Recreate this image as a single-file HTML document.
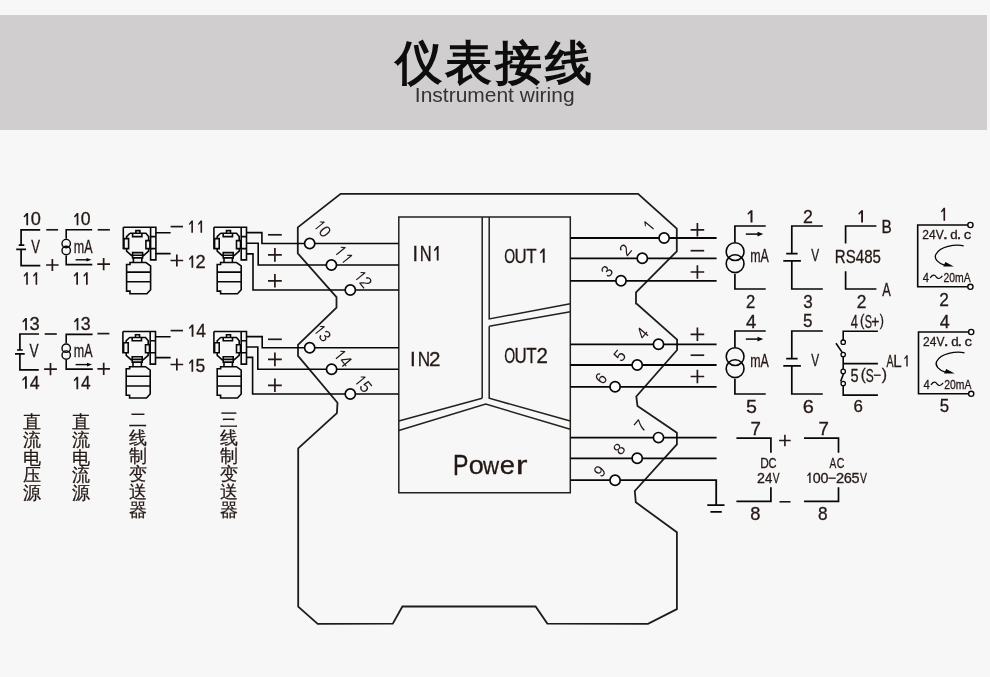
<!DOCTYPE html>
<html><head><meta charset="utf-8"><style>
html,body{margin:0;padding:0;background:#f7f7f7;}
body{width:990px;height:677px;overflow:hidden;position:relative;font-family:"Liberation Sans",sans-serif;}
.band{position:absolute;left:0;top:15px;width:987px;height:115px;background:#d0cecf;}
svg{position:absolute;left:0;top:0;will-change:transform;}
svg text{font-family:"Liberation Sans",sans-serif;}
.b text{stroke:#231815;stroke-width:0.3px;}
.b path{stroke:none;}
</style></head><body>
<div class="band"></div>
<svg width="990" height="677" viewBox="0 0 990 677">
<text x="395" y="79.3" font-size="47" letter-spacing="3" font-weight="bold" fill="#0d0d0d">仪表接线</text>
<g class="lt" fill="#333333" transform="translate(414.86 101.85) scale(1.0236 1)"><text x="0.00" y="0" font-size="20.49">I</text><text x="5.69" y="0" font-size="20.49">n</text><text x="17.09" y="0" font-size="20.49">s</text><text x="27.33" y="0" font-size="20.49">t</text><text x="33.03" y="0" font-size="20.49">r</text><text x="39.85" y="0" font-size="20.49">u</text><text x="51.25" y="0" font-size="20.49">m</text><text x="68.32" y="0" font-size="20.49">e</text><text x="79.71" y="0" font-size="20.49">n</text><text x="91.11" y="0" font-size="20.49">t</text><text x="102.49" y="0" font-size="20.49">w</text><text x="117.29" y="0" font-size="20.49">i</text><text x="121.84" y="0" font-size="20.49">r</text><text x="128.67" y="0" font-size="20.49">i</text><text x="133.22" y="0" font-size="20.49">n</text><text x="144.62" y="0" font-size="20.49">g</text></g>
<path d="M340.6 193.9 L638.1 193.9 L676.8 228.6 L676.8 251.3 L636.0 292.3 L636.0 303.6 L637.0 304.0 L677.1 339.6 L677.1 350.0 L636.3 396.5 L637.5 406.0 L676.9 432.7 L676.9 444.4 L634.8 491.0 L635.8 502.3 L676.9 532.3 L676.9 609.1 L648.0 623.9 L547.3 623.6 L535.6 606.5 L402.4 606.5 L392.8 623.6 L317.7 623.9 L298.2 606.7 L298.2 448.3 L336.9 413.1 L337.5 402.7 L298.0 355.8 L298.0 344.8 L336.5 307.6 L336.5 297.2 L297.8 253.4 L297.8 227.4 Z" stroke="#1d1c17" stroke-width="1.8" fill="none" stroke-linejoin="miter"/>
<path d="M398.8 217H570.3V492.8H398.8Z" stroke="#22211e" stroke-width="1.5" fill="none"/>
<path d="M482.2 217V398.3M489.2 217V318.9L570.3 303.8M489.2 326.2L570.3 311.7M489.2 326.2V398.3L570.3 421" stroke="#22211e" stroke-width="1.5" fill="none"/>
<path d="M398.8 421L482.2 398.3M398.8 430.5L485.7 404.1L570.3 429.2" stroke="#22211e" stroke-width="1.5" fill="none"/>
<g class="b" fill="#231815" transform="translate(0 260.50)"><text transform="translate(412.47 0) scale(0.9321 1)" font-size="21.22">I</text><text transform="translate(419.75 0) scale(0.7799 1)" font-size="21.22">N</text><path transform="translate(429.81 0) scale(0.00966 0.01036)" d="M910 -1409V0H720V-1114L506 -896L420 -1010L740 -1409Z"/></g>
<g class="b" fill="#231815" transform="translate(0 262.70)"><text transform="translate(504.14 0) scale(0.6848 1)" font-size="20.49">O</text><text transform="translate(514.38 0) scale(0.8231 1)" font-size="20.49">U</text><text transform="translate(526.19 0) scale(0.8267 1)" font-size="20.49">T</text><path transform="translate(535.59 0) scale(0.01001 0.01001)" d="M910 -1409V0H720V-1114L506 -896L420 -1010L740 -1409Z"/></g>
<g class="b" fill="#231815" transform="translate(0 365.70)"><text transform="translate(410.10 0) scale(0.9900 1)" font-size="20.79">I</text><text transform="translate(417.67 0) scale(0.8282 1)" font-size="20.79">N</text><text transform="translate(429.09 0) scale(0.9900 1)" font-size="20.79">2</text></g>
<g class="b" fill="#231815" transform="translate(0 362.70)"><text transform="translate(504.13 0) scale(0.6626 1)" font-size="21.22">O</text><text transform="translate(514.40 0) scale(0.7965 1)" font-size="21.22">U</text><text transform="translate(526.23 0) scale(0.7999 1)" font-size="21.22">T</text><text transform="translate(536.61 0) scale(0.9678 1)" font-size="21.22">2</text></g>
<g class="b" fill="#231815" transform="translate(453.10 474.50) scale(0.7608 1)"><text x="0.00" y="0" font-size="30.38">P</text></g>
<g class="b" fill="#231815" transform="translate(468.76 474.35) scale(1.0533 1)"><text x="0.00" y="0" font-size="25.74">o</text></g>
<g class="b" fill="#231815" transform="translate(482.93 474.30) scale(0.8998 1)"><text x="0.00" y="0" font-size="24.80">w</text></g>
<g class="b" fill="#231815" transform="translate(499.64 474.35) scale(1.0599 1)"><text x="0.00" y="0" font-size="25.74">e</text></g>
<g class="b" fill="#231815" transform="translate(515.86 474.30) scale(1.3725 1)"><text x="0.00" y="0" font-size="25.65">r</text></g>
<path d="M246.5 232.6H261.9V243.5H398.8" stroke="#080707" stroke-width="1.6" fill="none"/>
<path d="M246.5 243.2H258.2V265.0H398.8" stroke="#080707" stroke-width="1.6" fill="none"/>
<path d="M246.5 253.9H253.0V290.0H398.8" stroke="#080707" stroke-width="1.6" fill="none"/>
<path d="M246.5 336.6H262.2V347.7H398.8" stroke="#080707" stroke-width="1.6" fill="none"/>
<path d="M246.5 347.0H257.8V369.3H398.8" stroke="#080707" stroke-width="1.6" fill="none"/>
<path d="M246.5 357.4H252.6V394.0H398.8" stroke="#080707" stroke-width="1.6" fill="none"/>
<circle cx="309.7" cy="243.5" r="5.1" fill="#fff" stroke="#080707" stroke-width="1.7"/>
<circle cx="331.4" cy="265.0" r="5.1" fill="#fff" stroke="#080707" stroke-width="1.7"/>
<circle cx="350.3" cy="290.0" r="5.1" fill="#fff" stroke="#080707" stroke-width="1.7"/>
<circle cx="309.7" cy="347.7" r="5.1" fill="#fff" stroke="#080707" stroke-width="1.7"/>
<circle cx="331.6" cy="369.3" r="5.1" fill="#fff" stroke="#080707" stroke-width="1.7"/>
<circle cx="350.3" cy="394.0" r="5.1" fill="#fff" stroke="#080707" stroke-width="1.7"/>
<g class="thin" fill="#231815" transform="translate(322.70 228.80) rotate(51) scale(0.950 1) translate(-11.25 5.74)"><path transform="translate(0.00 0) scale(0.00814 0.00814)" d="M910 -1409V0H760V-1176L488 -920L420 -1010L780 -1409Z"/><text x="10.47" y="0" font-size="16.67">0</text></g>
<g class="thin" fill="#231815" transform="translate(343.30 253.90) rotate(51) scale(0.950 1) translate(-10.94 5.90)"><path transform="translate(0.00 0) scale(0.00837 0.00837)" d="M910 -1409V0H760V-1176L488 -920L420 -1010L780 -1409Z"/><path transform="translate(10.74 0) scale(0.00837 0.00837)" d="M910 -1409V0H760V-1176L488 -920L420 -1010L780 -1409Z"/></g>
<g class="thin" fill="#231815" transform="translate(363.50 279.40) rotate(51) scale(0.950 1) translate(-11.31 5.90)"><path transform="translate(0.00 0) scale(0.00825 0.00825)" d="M910 -1409V0H760V-1176L488 -920L420 -1010L780 -1409Z"/><text x="10.60" y="0" font-size="16.90">2</text></g>
<g class="thin" fill="#231815" transform="translate(322.70 333.30) rotate(51) scale(0.950 1) translate(-11.21 5.74)"><path transform="translate(0.00 0) scale(0.00814 0.00814)" d="M910 -1409V0H760V-1176L488 -920L420 -1010L780 -1409Z"/><text x="10.47" y="0" font-size="16.67">3</text></g>
<g class="thin" fill="#231815" transform="translate(343.30 358.40) rotate(51) scale(0.950 1) translate(-11.65 5.90)"><path transform="translate(0.00 0) scale(0.00837 0.00837)" d="M910 -1409V0H760V-1176L488 -920L420 -1010L780 -1409Z"/><text x="10.74" y="0" font-size="17.15">4</text></g>
<g class="thin" fill="#231815" transform="translate(363.50 383.90) rotate(51) scale(0.950 1) translate(-11.38 5.73)"><path transform="translate(0.00 0) scale(0.00826 0.00826)" d="M910 -1409V0H760V-1176L488 -920L420 -1010L780 -1409Z"/><text x="10.61" y="0" font-size="16.91">5</text></g>
<path d="M570.3 238.0H716.6M570.3 258.3H716.6M570.3 280.8H716.6" stroke="#080707" stroke-width="1.8" fill="none"/>
<path d="M570.3 344.3H716.6M570.3 365.0H716.6M570.3 386.8H716.6" stroke="#080707" stroke-width="1.8" fill="none"/>
<path d="M570.3 437.6H716.6M570.3 458.3H716.6M570.3 480.2H716.2V505.0" stroke="#080707" stroke-width="1.8" fill="none"/>
<path d="M707.3 505.2H724.5M710.4 511.8H721.8" stroke="#080707" stroke-width="1.8" fill="none"/>
<circle cx="664.1" cy="238.0" r="5.1" fill="#fff" stroke="#080707" stroke-width="1.7"/>
<circle cx="642.3" cy="258.3" r="5.1" fill="#fff" stroke="#080707" stroke-width="1.7"/>
<circle cx="621.0" cy="280.8" r="5.1" fill="#fff" stroke="#080707" stroke-width="1.7"/>
<circle cx="658.5" cy="344.3" r="5.1" fill="#fff" stroke="#080707" stroke-width="1.7"/>
<circle cx="637.2" cy="365.0" r="5.1" fill="#fff" stroke="#080707" stroke-width="1.7"/>
<circle cx="615.1" cy="386.8" r="5.1" fill="#fff" stroke="#080707" stroke-width="1.7"/>
<circle cx="658.5" cy="437.6" r="5.1" fill="#fff" stroke="#080707" stroke-width="1.7"/>
<circle cx="637.2" cy="458.3" r="5.1" fill="#fff" stroke="#080707" stroke-width="1.7"/>
<circle cx="615.1" cy="480.2" r="5.1" fill="#fff" stroke="#080707" stroke-width="1.7"/>
<g class="thin" fill="#231815" transform="translate(648.20 226.30) rotate(-50) scale(0.950 1) translate(-5.57 5.90)"><path transform="translate(0.00 0) scale(0.00837 0.00837)" d="M910 -1409V0H760V-1176L488 -920L420 -1010L780 -1409Z"/></g>
<g class="thin" fill="#231815" transform="translate(625.30 249.80) rotate(-50) scale(0.950 1) translate(-4.70 5.90)"><text x="0.00" y="0" font-size="16.90">2</text></g>
<g class="thin" fill="#231815" transform="translate(606.80 271.20) rotate(-50) scale(0.950 1) translate(-4.59 5.74)"><text x="0.00" y="0" font-size="16.67">3</text></g>
<g class="thin" fill="#231815" transform="translate(642.40 333.40) rotate(-50) scale(0.950 1) translate(-4.71 5.90)"><text x="0.00" y="0" font-size="17.15">4</text></g>
<g class="thin" fill="#231815" transform="translate(619.60 355.70) rotate(-50) scale(0.950 1) translate(-4.69 5.73)"><text x="0.00" y="0" font-size="16.91">5</text></g>
<g class="thin" fill="#231815" transform="translate(601.00 378.50) rotate(-50) scale(0.950 1) translate(-4.69 5.74)"><text x="0.00" y="0" font-size="16.67">6</text></g>
<g class="thin" fill="#231815" transform="translate(640.30 425.80) rotate(-50) scale(0.950 1) translate(-4.78 5.90)"><text x="0.00" y="0" font-size="17.15">7</text></g>
<g class="thin" fill="#231815" transform="translate(619.20 449.00) rotate(-50) scale(0.950 1) translate(-4.63 5.74)"><text x="0.00" y="0" font-size="16.67">8</text></g>
<g class="thin" fill="#231815" transform="translate(599.60 471.30) rotate(-50) scale(0.950 1) translate(-4.63 5.74)"><text x="0.00" y="0" font-size="16.67">9</text></g>
<path d="M690.60 229.80H704.20M697.40 223.10V236.50" stroke="#231815" stroke-width="1.7" fill="none"/>
<path d="M690.60 250.70H704.20" stroke="#231815" stroke-width="1.7" fill="none"/>
<path d="M690.60 272.00H704.20M697.40 265.30V278.70" stroke="#231815" stroke-width="1.7" fill="none"/>
<path d="M690.60 334.30H704.20M697.40 327.60V341.00" stroke="#231815" stroke-width="1.7" fill="none"/>
<path d="M690.60 355.20H704.20" stroke="#231815" stroke-width="1.7" fill="none"/>
<path d="M690.60 376.50H704.20M697.40 369.80V383.20" stroke="#231815" stroke-width="1.7" fill="none"/>
<path d="M40.2 229.8H21.1V245.2M21.1 249.3V265.7H40.3" stroke="#080707" stroke-width="1.7" fill="none"/>
<path d="M18.7 245.2H24.3M16.2 249.3H26.0" stroke="#080707" stroke-width="1.7" fill="none"/>
<g class="b" fill="#231815" transform="translate(0 225.30)"><path transform="translate(19.54 0) scale(0.00942 0.00866)" d="M910 -1409V0H720V-1114L506 -896L420 -1010L740 -1409Z"/><text transform="translate(30.63 0) scale(1.0260 1)" font-size="17.73">0</text></g>
<g class="b" fill="#231815" transform="translate(31.14 252.50) scale(0.7191 1)"><text x="0.00" y="0" font-size="18.17">V</text></g>
<g class="b" fill="#231815" transform="translate(0 284.80)"><path transform="translate(19.96 0) scale(0.00866 0.00894)" d="M910 -1409V0H720V-1114L506 -896L420 -1010L740 -1409Z"/><path transform="translate(29.32 0) scale(0.00866 0.00894)" d="M910 -1409V0H720V-1114L506 -896L420 -1010L740 -1409Z"/></g>
<path d="M46.30 229.80H58.10" stroke="#231815" stroke-width="1.7" fill="none"/>
<path d="M46.10 265.00H58.60M52.35 259.05V270.95" stroke="#231815" stroke-width="1.7" fill="none"/>
<path d="M92.2 229.8H66.2V238.7M66.2 255.4V264.6H92.3" stroke="#080707" stroke-width="1.6" fill="none"/>
<circle cx="66.2" cy="243.6" r="4.2" fill="none" stroke="#080707" stroke-width="1.4"/>
<circle cx="66.2" cy="250.5" r="4.2" fill="none" stroke="#080707" stroke-width="1.4"/>
<path d="M75.6 259.8H88.0" stroke="#080707" stroke-width="1.4" fill="none"/>
<path d="M86.5 258.0L91.5 259.8L86.5 261.6Z" fill="#080707"/>
<g class="b" fill="#231815" transform="translate(0 225.30)"><path transform="translate(70.06 0) scale(0.00914 0.00866)" d="M910 -1409V0H720V-1114L506 -896L420 -1010L740 -1409Z"/><text transform="translate(80.82 0) scale(0.9953 1)" font-size="17.73">0</text></g>
<g class="b" fill="#231815" transform="translate(73.87 252.50) scale(0.6882 1)"><text x="0.00" y="0" font-size="18.17">m</text><text x="15.13" y="0" font-size="18.17">A</text></g>
<g class="b" fill="#231815" transform="translate(0 284.80)"><path transform="translate(69.83 0) scale(0.00898 0.00894)" d="M910 -1409V0H720V-1114L506 -896L420 -1010L740 -1409Z"/><path transform="translate(79.53 0) scale(0.00898 0.00894)" d="M910 -1409V0H720V-1114L506 -896L420 -1010L740 -1409Z"/></g>
<path d="M97.70 229.80H109.90" stroke="#231815" stroke-width="1.7" fill="none"/>
<path d="M97.30 264.10H110.00M103.65 258.05V270.15" stroke="#231815" stroke-width="1.7" fill="none"/>
<path d="M39.0 334.0H19.9V350.0M19.9 353.9V369.9H38.8" stroke="#080707" stroke-width="1.7" fill="none"/>
<path d="M17.0 350.0H22.7M15.0 353.9H24.7" stroke="#080707" stroke-width="1.7" fill="none"/>
<g class="b" fill="#231815" transform="translate(0 330.30)"><path transform="translate(18.34 0) scale(0.00942 0.00866)" d="M910 -1409V0H720V-1114L506 -896L420 -1010L740 -1409Z"/><text transform="translate(29.44 0) scale(1.0345 1)" font-size="17.73">3</text></g>
<g class="b" fill="#231815" transform="translate(29.54 356.70) scale(0.7466 1)"><text x="0.00" y="0" font-size="18.31">V</text></g>
<g class="b" fill="#231815" transform="translate(0 388.80)"><path transform="translate(18.02 0) scale(0.00970 0.00894)" d="M910 -1409V0H720V-1114L506 -896L420 -1010L740 -1409Z"/><text transform="translate(29.77 0) scale(0.9706 1)" font-size="18.31">4</text></g>
<path d="M44.70 334.00H56.80" stroke="#231815" stroke-width="1.7" fill="none"/>
<path d="M44.10 369.10H56.90M50.50 363.05V375.15" stroke="#231815" stroke-width="1.7" fill="none"/>
<path d="M92.6 334.4H66.2V343.3M66.2 360.0V369.1H92.8" stroke="#080707" stroke-width="1.6" fill="none"/>
<circle cx="66.2" cy="348.2" r="4.2" fill="none" stroke="#080707" stroke-width="1.4"/>
<circle cx="66.2" cy="355.1" r="4.2" fill="none" stroke="#080707" stroke-width="1.4"/>
<path d="M75.6 364.6H88.5" stroke="#080707" stroke-width="1.4" fill="none"/>
<path d="M87.0 362.8L92.0 364.6L87.0 366.4Z" fill="#080707"/>
<g class="b" fill="#231815" transform="translate(0 330.30)"><path transform="translate(70.06 0) scale(0.00914 0.00866)" d="M910 -1409V0H720V-1114L506 -896L420 -1010L740 -1409Z"/><text transform="translate(80.83 0) scale(1.0035 1)" font-size="17.73">3</text></g>
<g class="b" fill="#231815" transform="translate(73.87 356.70) scale(0.6827 1)"><text x="0.00" y="0" font-size="18.31">m</text><text x="15.26" y="0" font-size="18.31">A</text></g>
<g class="b" fill="#231815" transform="translate(0 389.30)"><path transform="translate(69.64 0) scale(0.00942 0.00894)" d="M910 -1409V0H720V-1114L506 -896L420 -1010L740 -1409Z"/><text transform="translate(81.05 0) scale(0.9424 1)" font-size="18.31">4</text></g>
<path d="M97.40 333.60H109.40" stroke="#231815" stroke-width="1.7" fill="none"/>
<path d="M97.40 368.90H110.00M103.70 362.85V374.95" stroke="#231815" stroke-width="1.7" fill="none"/>
<path d="M170.60 226.60H183.00" stroke="#231815" stroke-width="1.7" fill="none"/>
<path d="M170.50 260.50H183.20M176.85 254.55V266.45" stroke="#231815" stroke-width="1.7" fill="none"/>
<g class="b" fill="#231815" transform="translate(0 232.80)"><path transform="translate(185.24 0) scale(0.00847 0.00880)" d="M910 -1409V0H720V-1114L506 -896L420 -1010L740 -1409Z"/><path transform="translate(194.39 0) scale(0.00847 0.00880)" d="M910 -1409V0H720V-1114L506 -896L420 -1010L740 -1409Z"/></g>
<g class="b" fill="#231815" transform="translate(0 267.80)"><path transform="translate(185.01 0) scale(0.00902 0.00880)" d="M910 -1409V0H720V-1114L506 -896L420 -1010L740 -1409Z"/><text transform="translate(195.40 0) scale(1.0163 1)" font-size="18.02">2</text></g>
<path d="M155.5 232.8H170.6M155.5 253.6H170.6" stroke="#080707" stroke-width="1.6" fill="none"/>
<path d="M170.60 330.60H183.00" stroke="#231815" stroke-width="1.7" fill="none"/>
<path d="M170.50 364.50H183.20M176.85 358.55V370.45" stroke="#231815" stroke-width="1.7" fill="none"/>
<g class="b" fill="#231815" transform="translate(0 336.80)"><path transform="translate(184.82 0) scale(0.00948 0.00880)" d="M910 -1409V0H720V-1114L506 -896L420 -1010L740 -1409Z"/><text transform="translate(196.29 0) scale(0.9633 1)" font-size="18.02">4</text></g>
<g class="b" fill="#231815" transform="translate(0 371.80)"><path transform="translate(185.03 0) scale(0.00897 0.00880)" d="M910 -1409V0H720V-1114L506 -896L420 -1010L740 -1409Z"/><text transform="translate(195.57 0) scale(0.9690 1)" font-size="18.02">5</text></g>
<path d="M155.5 336.8H170.6M155.5 357.6H170.6" stroke="#080707" stroke-width="1.6" fill="none"/>
<path d="M268.00 234.80H281.80" stroke="#231815" stroke-width="1.7" fill="none"/>
<path d="M268.00 254.90H281.80M274.90 248.10V261.70" stroke="#231815" stroke-width="1.7" fill="none"/>
<path d="M268.00 280.80H281.80M274.90 274.00V287.60" stroke="#231815" stroke-width="1.7" fill="none"/>
<path d="M268.00 339.30H281.80" stroke="#231815" stroke-width="1.7" fill="none"/>
<path d="M268.00 359.40H281.80M274.90 352.60V366.20" stroke="#231815" stroke-width="1.7" fill="none"/>
<path d="M268.00 385.30H281.80M274.90 378.50V392.10" stroke="#231815" stroke-width="1.7" fill="none"/>
<path transform="translate(124 228)" d="M-0.7 -0.7H31.9M-0.7 -0.7V21.2M26.6 -0.7H31.9V31.9H26.6ZM26.6 8.6H31.9M26.6 20.6H31.9M6 5.3H21.9L24.6 8.6V12.6M24.6 20.6V23.2L19.2 27.9M7.9 27.9L2.6 23.2V20.6M2.6 10.6V8.6L6 5.3M0 10.6H4.6V20.6H0ZM21.9 12.6H25.9V20.6H21.9ZM8.6 5.3V8.6H17.9V5.3M11.9 5.3V2.6H15.9V5.3M8.6 24.6H18.6V29.9H8.6ZM8.6 27.2H18.6M9.4 29.9V34.5M17.8 29.9V34.5M6 34.5H21.9L26.6 37.9V61.8L22.9 65.8H6V63.1H2.6V36.5H6ZM2.6 44.1H26.6M2.6 53.8H26.6" stroke="#080707" stroke-width="1.6" fill="none"/>
<path transform="translate(214.6 228)" d="M-0.7 -0.7H31.9M-0.7 -0.7V21.2M26.6 -0.7H31.9V31.9H26.6ZM26.6 8.6H31.9M26.6 20.6H31.9M6 5.3H21.9L24.6 8.6V12.6M24.6 20.6V23.2L19.2 27.9M7.9 27.9L2.6 23.2V20.6M2.6 10.6V8.6L6 5.3M0 10.6H4.6V20.6H0ZM21.9 12.6H25.9V20.6H21.9ZM8.6 5.3V8.6H17.9V5.3M11.9 5.3V2.6H15.9V5.3M8.6 24.6H18.6V29.9H8.6ZM8.6 27.2H18.6M9.4 29.9V34.5M17.8 29.9V34.5M6 34.5H21.9L26.6 37.9V61.8L22.9 65.8H6V63.1H2.6V36.5H6ZM2.6 44.1H26.6M2.6 53.8H26.6" stroke="#080707" stroke-width="1.6" fill="none"/>
<path transform="translate(123.6 332.2)" d="M-0.7 -0.7H31.9M-0.7 -0.7V21.2M26.6 -0.7H31.9V31.9H26.6ZM26.6 8.6H31.9M26.6 20.6H31.9M6 5.3H21.9L24.6 8.6V12.6M24.6 20.6V23.2L19.2 27.9M7.9 27.9L2.6 23.2V20.6M2.6 10.6V8.6L6 5.3M0 10.6H4.6V20.6H0ZM21.9 12.6H25.9V20.6H21.9ZM8.6 5.3V8.6H17.9V5.3M11.9 5.3V2.6H15.9V5.3M8.6 24.6H18.6V29.9H8.6ZM8.6 27.2H18.6M9.4 29.9V34.5M17.8 29.9V34.5M6 34.5H21.9L26.6 37.9V61.8L22.9 65.8H6V63.1H2.6V36.5H6ZM2.6 44.1H26.6M2.6 53.8H26.6" stroke="#080707" stroke-width="1.6" fill="none"/>
<path transform="translate(214.6 332.2)" d="M-0.7 -0.7H31.9M-0.7 -0.7V21.2M26.6 -0.7H31.9V31.9H26.6ZM26.6 8.6H31.9M26.6 20.6H31.9M6 5.3H21.9L24.6 8.6V12.6M24.6 20.6V23.2L19.2 27.9M7.9 27.9L2.6 23.2V20.6M2.6 10.6V8.6L6 5.3M0 10.6H4.6V20.6H0ZM21.9 12.6H25.9V20.6H21.9ZM8.6 5.3V8.6H17.9V5.3M11.9 5.3V2.6H15.9V5.3M8.6 24.6H18.6V29.9H8.6ZM8.6 27.2H18.6M9.4 29.9V34.5M17.8 29.9V34.5M6 34.5H21.9L26.6 37.9V61.8L22.9 65.8H6V63.1H2.6V36.5H6ZM2.6 44.1H26.6M2.6 53.8H26.6" stroke="#080707" stroke-width="1.6" fill="none"/>
<text x="23.0" y="428.00" font-size="17.5" fill="#231815" stroke="#231815" stroke-width="0.25">直</text>
<text x="23.0" y="445.75" font-size="17.5" fill="#231815" stroke="#231815" stroke-width="0.25">流</text>
<text x="23.0" y="463.50" font-size="17.5" fill="#231815" stroke="#231815" stroke-width="0.25">电</text>
<text x="23.0" y="481.25" font-size="17.5" fill="#231815" stroke="#231815" stroke-width="0.25">压</text>
<text x="23.0" y="499.00" font-size="17.5" fill="#231815" stroke="#231815" stroke-width="0.25">源</text>
<text x="72.0" y="428.00" font-size="17.5" fill="#231815" stroke="#231815" stroke-width="0.25">直</text>
<text x="72.0" y="445.75" font-size="17.5" fill="#231815" stroke="#231815" stroke-width="0.25">流</text>
<text x="72.0" y="463.50" font-size="17.5" fill="#231815" stroke="#231815" stroke-width="0.25">电</text>
<text x="72.0" y="481.25" font-size="17.5" fill="#231815" stroke="#231815" stroke-width="0.25">流</text>
<text x="72.0" y="499.00" font-size="17.5" fill="#231815" stroke="#231815" stroke-width="0.25">源</text>
<text x="129.0" y="426.40" font-size="17.5" fill="#231815" stroke="#231815" stroke-width="0.25">二</text>
<text x="129.0" y="444.25" font-size="17.5" fill="#231815" stroke="#231815" stroke-width="0.25">线</text>
<text x="129.0" y="462.10" font-size="17.5" fill="#231815" stroke="#231815" stroke-width="0.25">制</text>
<text x="129.0" y="479.95" font-size="17.5" fill="#231815" stroke="#231815" stroke-width="0.25">变</text>
<text x="129.0" y="497.80" font-size="17.5" fill="#231815" stroke="#231815" stroke-width="0.25">送</text>
<text x="129.0" y="515.65" font-size="17.5" fill="#231815" stroke="#231815" stroke-width="0.25">器</text>
<text x="219.5" y="426.40" font-size="17.5" fill="#231815" stroke="#231815" stroke-width="0.25">三</text>
<text x="219.5" y="444.25" font-size="17.5" fill="#231815" stroke="#231815" stroke-width="0.25">线</text>
<text x="219.5" y="462.10" font-size="17.5" fill="#231815" stroke="#231815" stroke-width="0.25">制</text>
<text x="219.5" y="479.95" font-size="17.5" fill="#231815" stroke="#231815" stroke-width="0.25">变</text>
<text x="219.5" y="497.80" font-size="17.5" fill="#231815" stroke="#231815" stroke-width="0.25">送</text>
<text x="219.5" y="515.65" font-size="17.5" fill="#231815" stroke="#231815" stroke-width="0.25">器</text>
<path d="M765.7 226H734.9V242.3M734.9 273.9V289H765.7" stroke="#080707" stroke-width="1.7" fill="none"/>
<circle cx="735.1" cy="251.6" r="8.9" fill="none" stroke="#080707" stroke-width="1.6"/>
<circle cx="735.1" cy="263.7" r="8.9" fill="none" stroke="#080707" stroke-width="1.6"/>
<path d="M745.8 234.1H759" stroke="#080707" stroke-width="1.5" fill="none"/>
<path d="M757.5 231.8L763.2 234.1L757.5 236.4Z" fill="#080707"/>
<g class="b" fill="#231815" transform="translate(750.17 261.60) scale(0.6898 1)"><text x="0.00" y="0" font-size="18.02">m</text><text x="15.01" y="0" font-size="18.02">A</text></g>
<g class="b" fill="#231815" transform="translate(742.84 222.50) scale(1.2256 1)"><path transform="translate(0.00 0) scale(0.00866 0.00866)" d="M910 -1409V0H720V-1114L506 -896L420 -1010L740 -1409Z"/></g>
<g class="b" fill="#231815" transform="translate(746.06 307.90) scale(0.9100 1)"><text x="0.00" y="0" font-size="18.33">2</text></g>
<path d="M822.8 226H791.8V253.6M791.8 260.9V289H822.8" stroke="#080707" stroke-width="1.7" fill="none"/>
<path d="M786.2 253.6H797.6M783.3 260.9H800.9" stroke="#080707" stroke-width="1.7" fill="none"/>
<g class="b" fill="#231815" transform="translate(811.35 261.40) scale(0.7412 1)"><text x="0.00" y="0" font-size="15.99">V</text></g>
<g class="b" fill="#231815" transform="translate(802.91 222.50) scale(1.0176 1)"><text x="0.00" y="0" font-size="17.47">2</text></g>
<g class="b" fill="#231815" transform="translate(803.15 307.72) scale(0.9450 1)"><text x="0.00" y="0" font-size="18.08">3</text></g>
<path d="M765.7 331H734.9V347.3M734.9 378.9V394H765.7" stroke="#080707" stroke-width="1.7" fill="none"/>
<circle cx="735.1" cy="356.6" r="8.9" fill="none" stroke="#080707" stroke-width="1.6"/>
<circle cx="735.1" cy="368.7" r="8.9" fill="none" stroke="#080707" stroke-width="1.6"/>
<path d="M745.8 339.1H759" stroke="#080707" stroke-width="1.5" fill="none"/>
<path d="M757.5 336.8L763.2 339.1L757.5 341.4Z" fill="#080707"/>
<g class="b" fill="#231815" transform="translate(750.17 366.60) scale(0.6898 1)"><text x="0.00" y="0" font-size="18.02">m</text><text x="15.01" y="0" font-size="18.02">A</text></g>
<g class="b" fill="#231815" transform="translate(746.08 327.50) scale(1.0408 1)"><text x="0.00" y="0" font-size="17.73">4</text></g>
<g class="b" fill="#231815" transform="translate(745.91 412.72) scale(1.0693 1)"><text x="0.00" y="0" font-size="18.34">5</text></g>
<path d="M822.8 331H791.8V358.6M791.8 365.9V394H822.8" stroke="#080707" stroke-width="1.7" fill="none"/>
<path d="M786.2 358.6H797.6M783.3 365.9H800.9" stroke="#080707" stroke-width="1.7" fill="none"/>
<g class="b" fill="#231815" transform="translate(811.35 366.40) scale(0.7412 1)"><text x="0.00" y="0" font-size="15.99">V</text></g>
<g class="b" fill="#231815" transform="translate(803.12 327.33) scale(0.9771 1)"><text x="0.00" y="0" font-size="17.48">5</text></g>
<g class="b" fill="#231815" transform="translate(802.79 412.72) scale(1.1028 1)"><text x="0.00" y="0" font-size="18.08">6</text></g>
<g transform="translate(0 0)">
<path d="M968 225H917.7V286.8H968" stroke="#080707" stroke-width="1.6" fill="none"/>
<circle cx="970.4" cy="225" r="2.6" fill="#fff" stroke="#080707" stroke-width="1.4"/>
<circle cx="970.4" cy="286.8" r="2.6" fill="#fff" stroke="#080707" stroke-width="1.4"/>
<g class="b" fill="#231815" transform="translate(922.30 238.70) scale(0.8822 1)"><text x="0.00" y="0" font-size="13.61">2</text><text x="7.57" y="0" font-size="13.61">4</text><text x="15.13" y="0" font-size="13.61">V</text></g>
<g class="b" fill="#231815" transform="translate(942.77 238.60) scale(1.1891 1)"><text x="0.00" y="0" font-size="15.90">.</text></g>
<g class="b" fill="#231815" transform="translate(950.34 238.57) scale(1.0314 1)"><text x="0.00" y="0" font-size="12.94">d</text></g>
<g class="b" fill="#231815" transform="translate(956.47 238.60) scale(1.1231 1)"><text x="0.00" y="0" font-size="15.90">.</text></g>
<g class="b" fill="#231815" transform="translate(963.76 238.77) scale(1.1633 1)"><text x="0.00" y="0" font-size="12.96">c</text></g>
<path d="M963.7 245.8C955 244 940 246.5 935.8 254.5C933.8 258.8 938 262.8 944.5 265.2" stroke="#080707" stroke-width="1.3" fill="none"/>
<path d="M943.3 266.6L953.9 266.6L945.4 262Z" fill="#080707"/>
<g class="b" fill="#231815" transform="translate(922.64 281.60) scale(0.8368 1)"><text x="0.00" y="0" font-size="13.52">4</text></g>
<path d="M930.2 277.8C932.5 274.4 934.5 274.4 936.2 276.8S939.8 279.2 942.4 275.8" stroke="#080707" stroke-width="1.2" fill="none"/>
<g class="b" fill="#231815" transform="translate(943.48 281.67) scale(0.7744 1)"><text x="0.00" y="0" font-size="13.42">2</text><text x="7.46" y="0" font-size="13.42">0</text><text x="14.92" y="0" font-size="13.42">m</text><text x="26.10" y="0" font-size="13.42">A</text></g>
</g>
<g class="b" fill="#231815" transform="translate(937.30 220.70) scale(0.9362 1)"><path transform="translate(0.00 0) scale(0.00916 0.00916)" d="M910 -1409V0H720V-1114L506 -896L420 -1010L740 -1409Z"/></g>
<g class="b" fill="#231815" transform="translate(939.13 305.60) scale(0.9765 1)"><text x="0.00" y="0" font-size="17.76">2</text></g>
<g transform="translate(0.8 107)">
<path d="M968 225H917.7V286.8H968" stroke="#080707" stroke-width="1.6" fill="none"/>
<circle cx="970.4" cy="225" r="2.6" fill="#fff" stroke="#080707" stroke-width="1.4"/>
<circle cx="970.4" cy="286.8" r="2.6" fill="#fff" stroke="#080707" stroke-width="1.4"/>
<g class="b" fill="#231815" transform="translate(922.30 238.70) scale(0.8822 1)"><text x="0.00" y="0" font-size="13.61">2</text><text x="7.57" y="0" font-size="13.61">4</text><text x="15.13" y="0" font-size="13.61">V</text></g>
<g class="b" fill="#231815" transform="translate(942.77 238.60) scale(1.1891 1)"><text x="0.00" y="0" font-size="15.90">.</text></g>
<g class="b" fill="#231815" transform="translate(950.34 238.57) scale(1.0314 1)"><text x="0.00" y="0" font-size="12.94">d</text></g>
<g class="b" fill="#231815" transform="translate(956.47 238.60) scale(1.1231 1)"><text x="0.00" y="0" font-size="15.90">.</text></g>
<g class="b" fill="#231815" transform="translate(963.76 238.77) scale(1.1633 1)"><text x="0.00" y="0" font-size="12.96">c</text></g>
<path d="M963.7 245.8C955 244 940 246.5 935.8 254.5C933.8 258.8 938 262.8 944.5 265.2" stroke="#080707" stroke-width="1.3" fill="none"/>
<path d="M943.3 266.6L953.9 266.6L945.4 262Z" fill="#080707"/>
<g class="b" fill="#231815" transform="translate(922.64 281.60) scale(0.8368 1)"><text x="0.00" y="0" font-size="13.52">4</text></g>
<path d="M930.2 277.8C932.5 274.4 934.5 274.4 936.2 276.8S939.8 279.2 942.4 275.8" stroke="#080707" stroke-width="1.2" fill="none"/>
<g class="b" fill="#231815" transform="translate(943.48 281.67) scale(0.7744 1)"><text x="0.00" y="0" font-size="13.42">2</text><text x="7.46" y="0" font-size="13.42">0</text><text x="14.92" y="0" font-size="13.42">m</text><text x="26.10" y="0" font-size="13.42">A</text></g>
</g>
<g class="b" fill="#231815" transform="translate(939.79 327.50) scale(0.9830 1)"><text x="0.00" y="0" font-size="18.17">4</text></g>
<g class="b" fill="#231815" transform="translate(939.82 412.32) scale(0.9270 1)"><text x="0.00" y="0" font-size="18.20">5</text></g>
<path d="M845.6 243.5V226H876.4M845.6 271.2V289H876.4" stroke="#080707" stroke-width="1.7" fill="none"/>
<g class="b" fill="#231815" transform="translate(834.86 262.62) scale(0.8334 1)"><text x="0.00" y="0" font-size="18.08">R</text><text x="13.06" y="0" font-size="18.08">S</text><text x="25.11" y="0" font-size="18.08">4</text><text x="35.17" y="0" font-size="18.08">8</text><text x="45.22" y="0" font-size="18.08">5</text></g>
<g class="b" fill="#231815" transform="translate(854.09 222.60) scale(1.1131 1)"><path transform="translate(0.00 0) scale(0.00880 0.00880)" d="M910 -1409V0H720V-1114L506 -896L420 -1010L740 -1409Z"/></g>
<g class="b" fill="#231815" transform="translate(856.73 307.70) scale(0.9534 1)"><text x="0.00" y="0" font-size="18.19">2</text></g>
<g class="b" fill="#231815" transform="translate(881.44 232.90) scale(0.8346 1)"><text x="0.00" y="0" font-size="18.46">B</text></g>
<g class="b" fill="#231815" transform="translate(882.37 296.00) scale(0.7055 1)"><text x="0.00" y="0" font-size="18.17">A</text></g>
<path d="M877.9 331.2H843.2V340M836 343.2L843.2 353.9M843.2 356.7V369.3M843.2 363.6H877.9M843.6 373.5L840.6 381.5M843.2 385.7V395.1H877.9" stroke="#080707" stroke-width="1.6" fill="none"/>
<circle cx="843.2" cy="342.2" r="2.2" fill="#fff" stroke="#080707" stroke-width="1.3"/>
<circle cx="843.2" cy="354.5" r="2.2" fill="#fff" stroke="#080707" stroke-width="1.3"/>
<circle cx="843.2" cy="371.4" r="2.2" fill="#fff" stroke="#080707" stroke-width="1.3"/>
<circle cx="843.2" cy="383.5" r="2.2" fill="#fff" stroke="#080707" stroke-width="1.3"/>
<g class="b" fill="#231815" transform="translate(850.80 327.70) scale(0.6988 1)"><text x="0.00" y="0" font-size="18.46">4</text></g>
<g class="b" fill="#231815" transform="translate(860.08 325.54) scale(0.8145 1)"><text x="0.00" y="0" font-size="16.21">(</text></g>
<g class="b" fill="#231815" transform="translate(864.70 327.72) scale(0.6006 1)"><text x="0.00" y="0" font-size="18.22">S</text></g>
<g class="b" fill="#231815" transform="translate(871.32 326.80) scale(0.8779 1)"><text x="0.00" y="0" font-size="15.94">+</text></g>
<g class="b" fill="#231815" transform="translate(879.73 325.54) scale(0.7679 1)"><text x="0.00" y="0" font-size="16.21">)</text></g>
<g class="b" fill="#231815" transform="translate(850.62 381.52) scale(0.7933 1)"><text x="0.00" y="0" font-size="18.34">5</text></g>
<g class="b" fill="#231815" transform="translate(860.76 379.64) scale(0.9308 1)"><text x="0.00" y="0" font-size="16.21">(</text></g>
<g class="b" fill="#231815" transform="translate(865.76 381.72) scale(0.6528 1)"><text x="0.00" y="0" font-size="18.36">S</text></g>
<g class="b" fill="#231815" transform="translate(881.71 379.64) scale(0.9774 1)"><text x="0.00" y="0" font-size="16.21">)</text></g>
<path d="M873.85 375.20H880.75" stroke="#231815" stroke-width="1.3" fill="none"/>
<g class="b" fill="#231815" transform="translate(0 366.60)"><text transform="translate(886.38 0) scale(0.6400 1)" font-size="16.57">A</text><text transform="translate(893.36 0) scale(0.9085 1)" font-size="16.57">L</text><path transform="translate(901.01 0) scale(0.00735 0.00809)" d="M910 -1409V0H720V-1114L506 -896L420 -1010L740 -1409Z"/></g>
<g class="b" fill="#231815" transform="translate(853.54 412.43) scale(0.9891 1)"><text x="0.00" y="0" font-size="17.09">6</text></g>
<path d="M736.4 438.2H770.9V452.7M770.9 487.3V501.3H736.4" stroke="#080707" stroke-width="1.7" fill="none"/>
<path d="M804 438.2H838.5V452.7M838.5 487.3V501.3H804" stroke="#080707" stroke-width="1.7" fill="none"/>
<g class="b" fill="#231815" transform="translate(0 467.80)"><text transform="translate(760.14 0) scale(0.8032 1)" font-size="14.83">D</text><text transform="translate(768.57 0) scale(0.7512 1)" font-size="14.83">C</text></g>
<g class="b" fill="#231815" transform="translate(0 482.70)"><text transform="translate(757.08 0) scale(0.9849 1)" font-size="14.54">2</text><text transform="translate(765.01 0) scale(0.9127 1)" font-size="14.54">4</text><text transform="translate(772.87 0) scale(0.6988 1)" font-size="14.54">V</text></g>
<g class="b" fill="#231815" transform="translate(750.54 434.70) scale(1.0129 1)"><text x="0.00" y="0" font-size="18.46">7</text></g>
<g class="b" fill="#231815" transform="translate(750.30 519.53) scale(1.0298 1)"><text x="0.00" y="0" font-size="17.80">8</text></g>
<g class="b" fill="#231815" transform="translate(0 467.80)"><text transform="translate(829.59 0) scale(0.6851 1)" font-size="14.83">A</text><text transform="translate(836.72 0) scale(0.7173 1)" font-size="14.83">C</text></g>
<g class="b" fill="#231815" transform="translate(0 482.90)"><path transform="translate(804.09 0) scale(0.00716 0.00731)" d="M910 -1409V0H720V-1114L506 -896L420 -1010L740 -1409Z"/><text transform="translate(812.66 0) scale(0.9577 1)" font-size="14.97">0</text><text transform="translate(820.44 0) scale(0.9577 1)" font-size="14.97">0</text><text transform="translate(828.10 0) scale(0.9423 1)" font-size="14.97">−</text><text transform="translate(835.93 0) scale(0.9795 1)" font-size="14.97">2</text><text transform="translate(843.67 0) scale(0.9795 1)" font-size="14.97">6</text><text transform="translate(851.58 0) scale(0.9656 1)" font-size="14.97">5</text><text transform="translate(859.90 0) scale(0.6955 1)" font-size="14.97">V</text></g>
<g class="b" fill="#231815" transform="translate(818.54 434.70) scale(1.0129 1)"><text x="0.00" y="0" font-size="18.46">7</text></g>
<g class="b" fill="#231815" transform="translate(818.05 519.53) scale(0.9700 1)"><text x="0.00" y="0" font-size="17.80">8</text></g>
<path d="M779.10 440.50H790.70M784.90 434.70V446.30" stroke="#231815" stroke-width="1.6" fill="none"/>
<path d="M779.50 501.80H790.50" stroke="#231815" stroke-width="1.6" fill="none"/>
</svg>
</body></html>
